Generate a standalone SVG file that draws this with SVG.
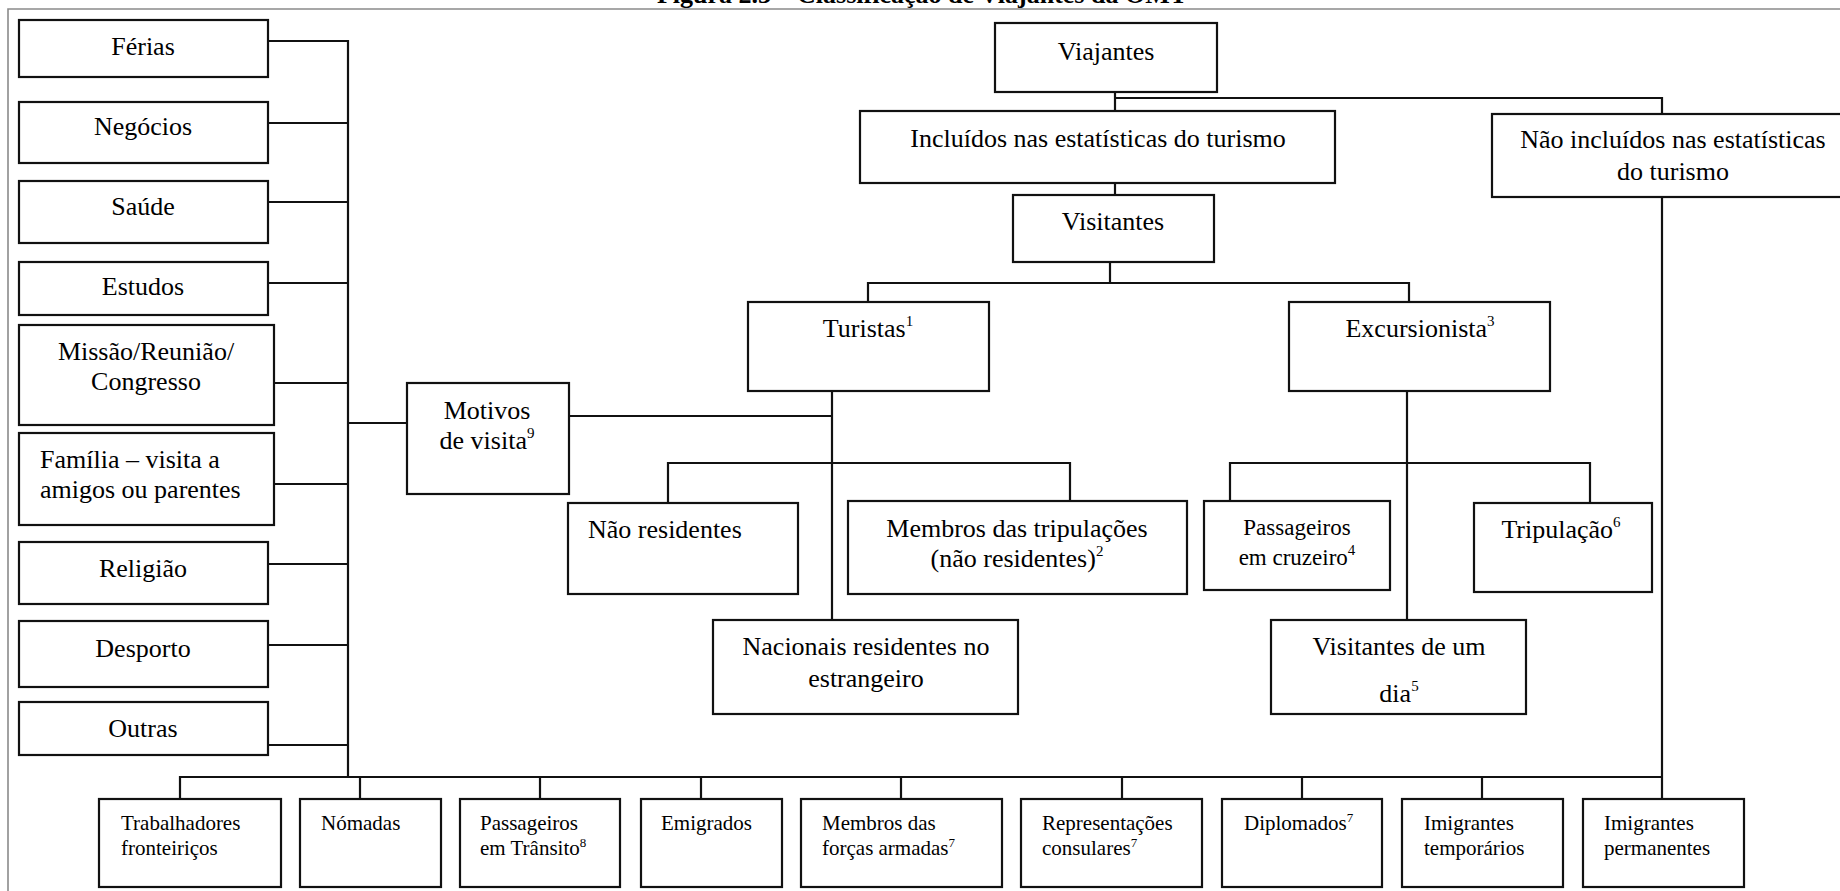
<svg xmlns="http://www.w3.org/2000/svg" width="1840" height="891" viewBox="0 0 1840 891">
  <style>
    .box { fill: #ffffff; stroke: #111111; stroke-width: 2.2; }
    .ln { fill: none; stroke: #111111; stroke-width: 2.2; }
    .frame { fill: none; stroke: #8a8a8a; stroke-width: 1.6; }
    text { font-family: "Liberation Serif", "Times New Roman", serif; fill: #000000; }
    .t26 { font-size: 26px; }
    .t23 { font-size: 23px; }
    .t21 { font-size: 21px; }
    .c { text-anchor: middle; }
    .sup { font-size: 15px; }
    .sup2 { font-size: 13px; }
    .title { font-size: 26px; font-weight: bold; }
  </style>

  <rect width="1840" height="891" fill="#ffffff"/>

  <!-- page frame and figure caption -->
  <path class="frame" d="M8,891 V9 H1840"/>
  <text class="title c" x="922" y="2.5">Figura 2.3 – Classificação de Viajantes da OMT</text>

  <!-- connectors -->
  <g id="connectors">
    <!-- purposes bus -->
    <path class="ln" d="M268,41 H348 V777"/>
    <path class="ln" d="M268,123 H348"/>
    <path class="ln" d="M268,202 H348"/>
    <path class="ln" d="M268,283 H348"/>
    <path class="ln" d="M274,383 H348"/>
    <path class="ln" d="M274,484 H348"/>
    <path class="ln" d="M268,564 H348"/>
    <path class="ln" d="M268,645 H348"/>
    <path class="ln" d="M268,745 H348"/>
    <path class="ln" d="M348,423 H407"/>
    <path class="ln" d="M569,416 H832"/>
    <!-- travellers tree -->
    <path class="ln" d="M1115,92 V111"/>
    <path class="ln" d="M1115,98 H1662 V114"/>
    <path class="ln" d="M1115,183 V195"/>
    <path class="ln" d="M1110,262 V283"/>
    <path class="ln" d="M868,302 V283 H1409 V302"/>
    <!-- tourists -->
    <path class="ln" d="M832,391 V620"/>
    <path class="ln" d="M668,506 V463 H1070 V506"/>
    <!-- same-day visitors -->
    <path class="ln" d="M1407,391 V620"/>
    <path class="ln" d="M1230,506 V463 H1590 V506"/>
    <!-- not included -->
    <path class="ln" d="M1662,197 V802"/>
    <path class="ln" d="M180,799 V777 H1662"/>
    <path class="ln" d="M360,777 V799"/>
    <path class="ln" d="M540,777 V799"/>
    <path class="ln" d="M701,777 V799"/>
    <path class="ln" d="M901,777 V799"/>
    <path class="ln" d="M1122,777 V799"/>
    <path class="ln" d="M1302,777 V799"/>
    <path class="ln" d="M1482,777 V799"/>
  </g>

  <!-- purposes of visit -->
  <g id="ferias">
    <rect class="box" x="19" y="20" width="249" height="57"/>
    <text class="t26 c" x="143" y="55">Férias</text>
  </g>
  <g id="negocios">
    <rect class="box" x="19" y="102" width="249" height="61"/>
    <text class="t26 c" x="143" y="135">Negócios</text>
  </g>
  <g id="saude">
    <rect class="box" x="19" y="181" width="249" height="62"/>
    <text class="t26 c" x="143" y="215">Saúde</text>
  </g>
  <g id="estudos">
    <rect class="box" x="19" y="262" width="249" height="53"/>
    <text class="t26 c" x="143" y="295">Estudos</text>
  </g>
  <g id="missao">
    <rect class="box" x="19" y="325" width="255" height="100"/>
    <text class="t26 c" x="146" y="360">Missão/Reunião/</text>
    <text class="t26 c" x="146" y="390">Congresso</text>
  </g>
  <g id="familia">
    <rect class="box" x="19" y="433" width="255" height="92"/>
    <text class="t26" x="40" y="468">Família – visita a</text>
    <text class="t26" x="40" y="498">amigos ou parentes</text>
  </g>
  <g id="religiao">
    <rect class="box" x="19" y="542" width="249" height="62"/>
    <text class="t26 c" x="143" y="577">Religião</text>
  </g>
  <g id="desporto">
    <rect class="box" x="19" y="621" width="249" height="66"/>
    <text class="t26 c" x="143" y="657">Desporto</text>
  </g>
  <g id="outras">
    <rect class="box" x="19" y="702" width="249" height="53"/>
    <text class="t26 c" x="143" y="737">Outras</text>
  </g>
  <g id="motivos">
    <rect class="box" x="407" y="383" width="162" height="111"/>
    <text class="t26 c" x="487" y="419">Motivos</text>
    <text class="t26 c" x="487" y="449">de visita<tspan class="sup" dy="-11">9</tspan></text>
  </g>

  <!-- travellers tree -->
  <g id="viajantes">
    <rect class="box" x="995" y="23" width="222" height="69"/>
    <text class="t26 c" x="1106" y="60">Viajantes</text>
  </g>
  <g id="incluidos">
    <rect class="box" x="860" y="111" width="475" height="72"/>
    <text class="t26 c" x="1098" y="147">Incluídos nas estatísticas do turismo</text>
  </g>
  <g id="nao-incluidos">
    <rect class="box" x="1492" y="114" width="360" height="83"/>
    <text class="t26 c" x="1673" y="148">Não incluídos nas estatísticas</text>
    <text class="t26 c" x="1673" y="180">do turismo</text>
  </g>
  <g id="visitantes">
    <rect class="box" x="1013" y="195" width="201" height="67"/>
    <text class="t26 c" x="1113" y="230">Visitantes</text>
  </g>
  <g id="turistas">
    <rect class="box" x="748" y="302" width="241" height="89"/>
    <text class="t26 c" x="868" y="337">Turistas<tspan class="sup" dy="-11">1</tspan></text>
  </g>
  <g id="excursionista">
    <rect class="box" x="1289" y="302" width="261" height="89"/>
    <text class="t26 c" x="1420" y="337">Excursionista<tspan class="sup" dy="-11">3</tspan></text>
  </g>
  <g id="nao-residentes">
    <rect class="box" x="568" y="503" width="230" height="91"/>
    <text class="t26" x="588" y="538">Não residentes</text>
  </g>
  <g id="membros-tripulacoes">
    <rect class="box" x="848" y="501" width="339" height="93"/>
    <text class="t26 c" x="1017" y="537">Membros das tripulações</text>
    <text class="t26 c" x="1017" y="567">(não residentes)<tspan class="sup" dy="-11">2</tspan></text>
  </g>
  <g id="nacionais">
    <rect class="box" x="713" y="620" width="305" height="94"/>
    <text class="t26 c" x="866" y="655">Nacionais residentes no</text>
    <text class="t26 c" x="866" y="687">estrangeiro</text>
  </g>
  <g id="passageiros-cruzeiro">
    <rect class="box" x="1204" y="501" width="186" height="89"/>
    <text class="t23 c" x="1297" y="535">Passageiros</text>
    <text class="t23 c" x="1297" y="565">em cruzeiro<tspan class="sup" dy="-10">4</tspan></text>
  </g>
  <g id="tripulacao">
    <rect class="box" x="1474" y="503" width="178" height="89"/>
    <text class="t26 c" x="1561" y="538">Tripulação<tspan class="sup" dy="-11">6</tspan></text>
  </g>
  <g id="visitantes-dia">
    <rect class="box" x="1271" y="620" width="255" height="94"/>
    <text class="t26 c" x="1399" y="655">Visitantes de um</text>
    <text class="t26 c" x="1399" y="702">dia<tspan class="sup" dy="-11">5</tspan></text>
  </g>

  <!-- travellers not counted -->
  <g id="trabalhadores">
    <rect class="box" x="99" y="799" width="182" height="88"/>
    <text class="t21" x="121" y="830">Trabalhadores</text>
    <text class="t21" x="121" y="855">fronteiriços</text>
  </g>
  <g id="nomadas">
    <rect class="box" x="300" y="799" width="141" height="88"/>
    <text class="t21" x="321" y="830">Nómadas</text>
  </g>
  <g id="passageiros-transito">
    <rect class="box" x="460" y="799" width="160" height="88"/>
    <text class="t21" x="480" y="830">Passageiros</text>
    <text class="t21" x="480" y="855">em Trânsito<tspan class="sup2" dy="-8">8</tspan></text>
  </g>
  <g id="emigrados">
    <rect class="box" x="641" y="799" width="141" height="88"/>
    <text class="t21" x="661" y="830">Emigrados</text>
  </g>
  <g id="forcas-armadas">
    <rect class="box" x="801" y="799" width="201" height="88"/>
    <text class="t21" x="822" y="830">Membros das</text>
    <text class="t21" x="822" y="855">forças armadas<tspan class="sup2" dy="-8">7</tspan></text>
  </g>
  <g id="consulares">
    <rect class="box" x="1021" y="799" width="181" height="88"/>
    <text class="t21" x="1042" y="830">Representações</text>
    <text class="t21" x="1042" y="855">consulares<tspan class="sup2" dy="-8">7</tspan></text>
  </g>
  <g id="diplomados">
    <rect class="box" x="1222" y="799" width="160" height="88"/>
    <text class="t21" x="1244" y="830">Diplomados<tspan class="sup2" dy="-8">7</tspan></text>
  </g>
  <g id="imigrantes-temporarios">
    <rect class="box" x="1402" y="799" width="161" height="88"/>
    <text class="t21" x="1424" y="830">Imigrantes</text>
    <text class="t21" x="1424" y="855">temporários</text>
  </g>
  <g id="imigrantes-permanentes">
    <rect class="box" x="1583" y="799" width="161" height="88"/>
    <text class="t21" x="1604" y="830">Imigrantes</text>
    <text class="t21" x="1604" y="855">permanentes</text>
  </g>
</svg>
